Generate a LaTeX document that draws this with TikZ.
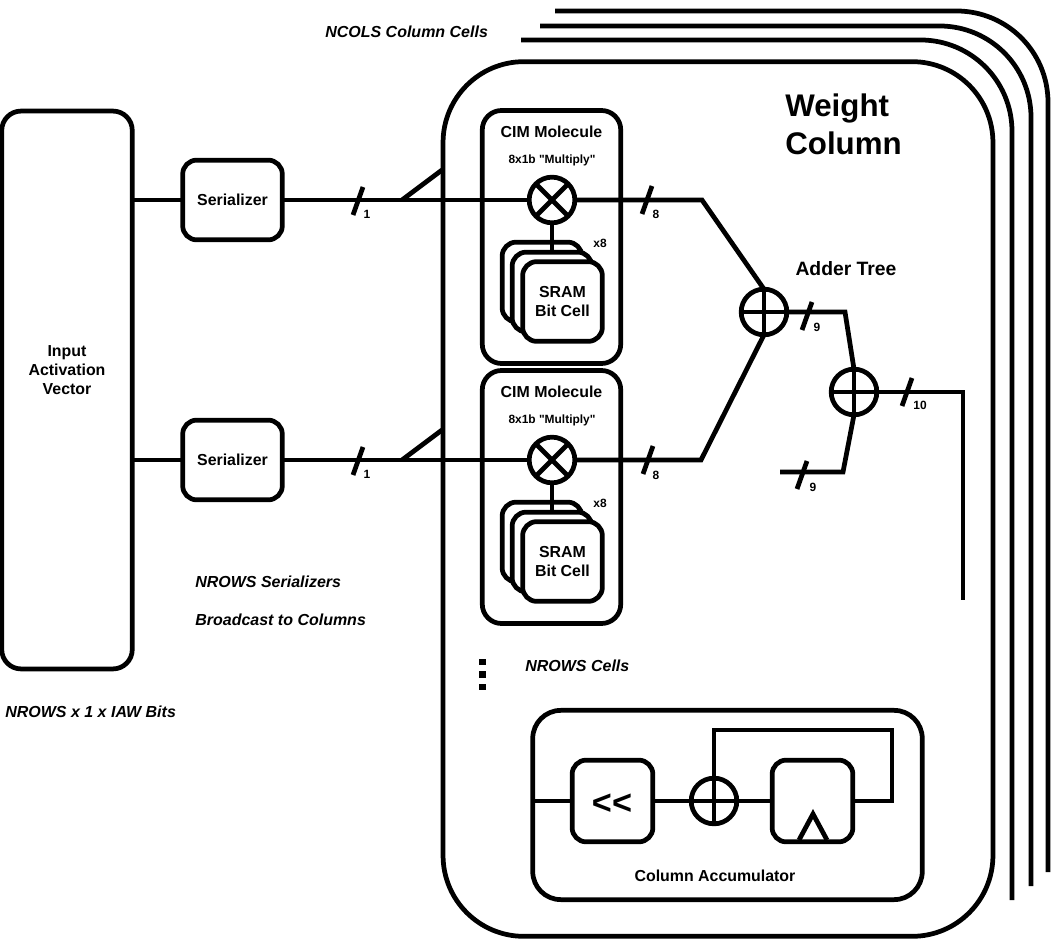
\documentclass[tikz,border=0pt]{standalone}
\usepackage{fontspec}
\setmainfont{Liberation Sans}[Ligatures=TeXOff]
\usepackage{tikz}
\usetikzlibrary{positioning}
\tikzset{
    wire/.style={line width=2.7pt,line join=miter},
    block/.style={draw,line width=2.7pt,rounded corners=8pt,fill=white,align=center,inner sep=0pt,outer sep=0pt,font=\bfseries\fontsize{9.05}{11}\selectfont},
    op/.style={draw,circle,line width=2.7pt,fill=white,minimum size=26pt,inner sep=0pt,outer sep=0pt},
    txt/.style={font=\bfseries\fontsize{9.05}{11}\selectfont,inner sep=0pt,align=center},
    small/.style={font=\bfseries\fontsize{6.8}{8}\selectfont,inner sep=0pt},
    note/.style={font=\bfseries\itshape\fontsize{9.1}{11}\selectfont,inner sep=0pt,anchor=west}
}
\begin{document}
\begin{tikzpicture}[x=0.02cm,y=-0.02cm]
    \useasboundingbox (0,0) rectangle (1052,942);
    % wrapped column outlines
    \draw[wire,rounded corners=52pt] (555,11) -- (1048,11) -- (1048,872);
    \draw[wire,rounded corners=52pt] (540,26) -- (1031,26) -- (1031,886);
    \draw[wire,rounded corners=52pt] (521,40) -- (1012,40) -- (1012,900);
    % weight column
    \node[block,rounded corners=46pt,minimum width=552*0.567pt,minimum height=878*0.567pt] (column) at (718,499) {};
    \node[txt,anchor=west,font=\bfseries\fontsize{17.8}{21.5}\selectfont,align=left] (title) at (785,124.5) {Weight\\Column};
    % input side
    \node[block,rounded corners=11pt,minimum width=131*0.567pt,minimum height=560*0.567pt] (input) at (67,390) {};
    \node[txt] (inputlabel) at (67,370) {Input\\Activation\\Vector};
    \node[block,minimum width=100*0.567pt,minimum height=80*0.567pt] (ser1) at (232.5,200) {Serializer};
    \node[block,minimum width=100*0.567pt,minimum height=80*0.567pt] (ser2) at (232.5,460) {Serializer};
    % broadcast stubs
    \coordinate (tap1) at (402,200);
    \coordinate (tap2) at (402,460);
    \draw[wire] (tap1) -- (442,170);
    \draw[wire] (tap2) -- (442,430);
    % molecules
    \foreach \row/\y in {1/0,2/260} {
        \node[block,rounded corners=11pt,fill=none,minimum width=139*0.567pt,minimum height=254*0.567pt] (cim\row) at (551.5,237+\y) {};
        \node[txt] (cimlabel\row) at (551.5,131.5+\y) {CIM Molecule};
        \node[small] (mullabel\row) at (552,160+\y) {8x1b "Multiply"};
        \node[op] (mul\row) at (552,200+\y) {};
        \draw[wire] (mul\row.north west) -- (mul\row.south east);
        \draw[wire] (mul\row.north east) -- (mul\row.south west);
        \node[small] (count\row) at (600,243+\y) {x8};
        \node[block,minimum width=80*0.567pt,minimum height=80*0.567pt] (cella\row) at (542,282+\y) {};
        \draw[wire] (mul\row) -- (552,252+\y);
        \node[block,minimum width=80*0.567pt,minimum height=80*0.567pt] (cellb\row) at (552,292+\y) {};
        \node[block,minimum width=80*0.567pt,minimum height=80*0.567pt] (cellc\row) at (562.5,301.5+\y) {SRAM\\Bit Cell};
    }
    % adder tree
    \node[op] (add1) at (764,312) {};
    \node[op] (add2) at (854,392) {};
    \draw[wire] (add1.north) -- (add1.south);
    \draw[wire] (add1.west) -- (add1.east);
    \draw[wire] (add2.north) -- (add2.south);
    \draw[wire] (add2.west) -- (add2.east);
    \node[txt,font=\bfseries\fontsize{11}{13}\selectfont] (addlabel) at (846,268.5) {Adder Tree};
    % wires
    \draw[wire] (input.east |- ser1) -- (ser1);
    \draw[wire] (input.east |- ser2) -- (ser2);
    \draw[wire] (ser1) -- (mul1);
    \draw[wire] (ser2) -- (mul2);
    \draw[wire] (mul1) -- (702,200) -- (add1.north);
    \draw[wire] (mul2) -- (701,460) -- (add1.south);
    \draw[wire] (add1) -- (845,312) -- (add2.north);
    \draw[wire] (add2.south) -- (843,472) -- (780,472);
    \draw[wire] (add2) -- (963,392) -- (963,600);
    % bus widths
    \foreach \x/\y/\w/\lx/\ly in {358/201/1/367/214,358/461/1/367/474,647/200/8/656/214,648/460/8/656/475,807/316/9/817/327,907/392/10/920/405,802/475/9/813/487} {
        \draw[wire] (\x,\y) +(-5,14) -- +(5,-14);
        \node[small] at (\lx,\ly) {\w};
    }
    % notes
    \node[note] (ncols) at (325,31.5) {NCOLS Column Cells};
    \node[note] (nser) at (195,581.5) {NROWS Serializers};
    \node[note] (bcast) at (195,619.5) {Broadcast to Columns};
    \node[note] (ncells) at (525,665.5) {NROWS Cells};
    \node[note] (nbits) at (5,711.5) {NROWS x 1 x IAW Bits};
    \foreach \y in {662,674.5,687} {
        \fill (479,\y-3.2) rectangle (485.5,\y+3.2);
    }
    % accumulator
    \node[block,rounded corners=16pt,fill=none,minimum width=391*0.567pt,minimum height=190*0.567pt] (accum) at (727.5,805) {};
    \node[txt] (acclabel) at (715,875.5) {Column Accumulator};
    \node[block,minimum width=81*0.567pt,minimum height=82*0.567pt] (shift) at (612.5,801) {};
    \node[txt,font=\bfseries\fontsize{19.5}{21}\selectfont] (shiftlabel) at (612,804) {<<};
    \node[op] (add3) at (714,801) {};
    \draw[wire] (add3.north) -- (add3.south);
    \draw[wire] (add3.west) -- (add3.east);
    \node[block,minimum width=81*0.567pt,minimum height=82*0.567pt] (reg) at (812.5,801) {};
    \draw[wire] (799,840) -- (813,814) -- (827,840);
    \draw[wire] (accum.west |- shift) -- (shift);
    \draw[wire] (shift) -- (add3);
    \draw[wire] (add3) -- (reg);
    \draw[wire] (reg) -- (892,801) -- (892,730) -- (714,730) -- (add3.north);
\end{tikzpicture}
\end{document}
